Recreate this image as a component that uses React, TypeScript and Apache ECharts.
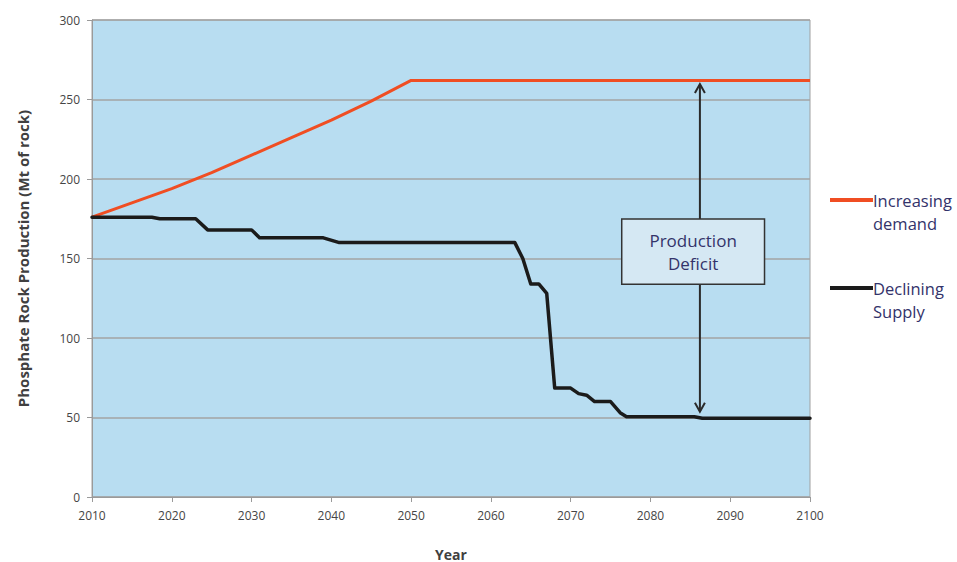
import React, { useEffect, useRef } from "react";
import * as echarts from "echarts";

// Projected demand for phosphate rock (Mt), by year
const demandYears = [2010, 2015, 2020, 2025, 2030, 2035, 2040, 2045, 2050, 2100];
const demandValues = [176, 185, 194, 204, 215, 226, 237, 249, 262, 262];

// Projected supply of phosphate rock (Mt), by year
const supplyYears = [
  2010, 2017.5, 2018.5, 2023, 2024.5, 2030, 2031, 2039, 2041, 2063, 2064, 2065, 2066, 2067,
  2068, 2070, 2071, 2072, 2073, 2075, 2076.2, 2077, 2085.5, 2086.5, 2100,
];
const supplyValues = [
  176, 176, 175, 175, 168, 168, 163, 163, 160, 160, 150, 134, 134, 128,
  68.5, 68.5, 65, 64, 60, 60, 53, 50.5, 50.5, 49.5, 49.5,
];

const seriesNames = ["Increasing demand", "Declining Supply"];
const legendLines = [["Increasing", "demand"], ["Declining", "Supply"]];
const deficitLabel = ["Production", "Deficit"];

// Deficit arrow: year and the two values it spans; box extent in data units
const deficitYear = 2086.2;
const deficitTop = 259.7;
const deficitBottom = 53.6;
const boxYears = [2076.4, 2094.3];
const boxValues = [174.8, 133.8];

const DEMAND_COLOR = "#f04e23";
const SUPPLY_COLOR = "#1b1b1b";
const NOTE_COLOR = "#33336a";
const FONT = "'Open Sans', 'Liberation Sans', sans-serif";

export default function App() {
  const ref = useRef<HTMLDivElement>(null);

  useEffect(() => {
    if (!ref.current) return;
    const chart = echarts.init(ref.current, undefined, { renderer: "svg" });

    const demandData = demandYears.map((y, i) => [y, demandValues[i]]);
    const supplyData = supplyYears.map((y, i) => [y, supplyValues[i]]);

    chart.setOption({
      animation: false,
      textStyle: { fontFamily: FONT },
      grid: {
        left: 92,
        right: 147,
        top: 20,
        bottom: 65,
        outerBoundsMode: "none",
        containLabel: false,
        show: true,
        backgroundColor: "#b8ddf1",
        borderColor: "#a0a0a0",
        borderWidth: 1,
      },
      xAxis: {
        type: "value",
        min: 2010,
        max: 2100,
        interval: 10,
        name: "Year",
        nameLocation: "middle",
        nameGap: 50,
        nameTextStyle: { fontSize: 14, fontWeight: "bold", color: "#404040", fontFamily: FONT },
        axisLine: { show: true, lineStyle: { color: "#9a9a9a", width: 1 } },
        axisTick: { show: true, length: 5, lineStyle: { color: "#9a9a9a" } },
        axisLabel: {
          fontSize: 12,
          color: "#454545",
          margin: 12,
          fontFamily: FONT,
          formatter: (v: number) => String(v),
        },
        splitLine: { show: false },
      },
      yAxis: {
        type: "value",
        min: 0,
        max: 300,
        interval: 50,
        name: "Phosphate Rock Production (Mt of rock)",
        nameLocation: "middle",
        nameGap: 62,
        nameTextStyle: { fontSize: 15, fontWeight: "bold", color: "#404040", fontFamily: FONT },
        axisLine: { show: true, lineStyle: { color: "#9a9a9a", width: 1 } },
        axisTick: { show: true, length: 5, lineStyle: { color: "#9a9a9a" } },
        axisLabel: { fontSize: 12, color: "#454545", margin: 12, fontFamily: FONT },
        splitLine: { show: true, lineStyle: { color: "#a3a3a3", width: 1.5 } },
      },
      series: [
        {
          name: seriesNames[0],
          type: "line",
          data: demandData,
          showSymbol: false,
          lineStyle: { color: DEMAND_COLOR, width: 3 },
          itemStyle: { color: DEMAND_COLOR },
          z: 3,
        },
        {
          name: seriesNames[1],
          type: "line",
          data: supplyData,
          showSymbol: false,
          lineStyle: { color: SUPPLY_COLOR, width: 3.5, join: "round", cap: "round" },
          itemStyle: { color: SUPPLY_COLOR },
          z: 4,
        },
      ],
    });

    const px = (x: number, y: number) =>
      chart.convertToPixel({ gridIndex: 0 }, [x, y]) as number[];

    const top = px(deficitYear, deficitTop);
    const bottom = px(deficitYear, deficitBottom);
    const boxA = px(boxYears[0], boxValues[0]);
    const boxB = px(boxYears[1], boxValues[1]);
    const ax = top[0];
    const head = 5;
    const headH = 9;
    const arrowStyle = { stroke: "#2a2a2a", lineWidth: 2, fill: null };

    const boxW = boxB[0] - boxA[0];
    const boxH = boxB[1] - boxA[1];
    const boxCx = (boxA[0] + boxB[0]) / 2;
    const boxCy = (boxA[1] + boxB[1]) / 2;

    // Legend placed to the right of the plot, one entry per series
    const gridRight = px(2100, 0)[0];
    const legendX = gridRight + 20;
    const legendRows = [200, 288];
    const legendColors = [DEMAND_COLOR, SUPPLY_COLOR];

    const legendGraphics: any[] = [];
    legendRows.forEach((rowY, i) => {
      legendGraphics.push({
        type: "line",
        shape: { x1: legendX, y1: rowY, x2: legendX + 43, y2: rowY },
        style: { stroke: legendColors[i], lineWidth: 4 },
        z: 10,
      });
      legendGraphics.push({
        type: "text",
        x: legendX + 43,
        y: rowY - 11.5,
        style: {
          text: legendLines[i].join("\n"),
          fontSize: 16.5,
          lineHeight: 23,
          fill: NOTE_COLOR,
          fontFamily: FONT,
          verticalAlign: "top",
          align: "left",
        },
        z: 10,
      });
    });

    chart.setOption({
      graphic: [
        {
          type: "line",
          shape: { x1: ax, y1: top[1] + 1, x2: ax, y2: bottom[1] - 1 },
          style: { stroke: "#2a2a2a", lineWidth: 2 },
          z: 5,
        },
        {
          type: "polyline",
          shape: { points: [[ax - head, top[1] + headH], [ax, top[1]], [ax + head, top[1] + headH]] },
          style: arrowStyle,
          z: 5,
        },
        {
          type: "polyline",
          shape: { points: [[ax - head, bottom[1] - headH], [ax, bottom[1]], [ax + head, bottom[1] - headH]] },
          style: arrowStyle,
          z: 5,
        },
        {
          type: "rect",
          shape: { x: boxA[0], y: boxA[1], width: boxW, height: boxH },
          style: { fill: "#d5e8f3", stroke: "#333333", lineWidth: 1.5 },
          z: 6,
        },
        {
          type: "text",
          x: boxCx,
          y: boxCy,
          style: {
            text: deficitLabel.join("\n"),
            fontSize: 17,
            lineHeight: 23,
            fill: NOTE_COLOR,
            fontFamily: FONT,
            align: "center",
            verticalAlign: "middle",
          },
          z: 7,
        },
        ...legendGraphics,
      ],
    });

    return () => chart.dispose();
  }, []);

  return <div ref={ref} style={{ width: 957, height: 562, position: "absolute", left: 0, top: 0 }} />;
}
